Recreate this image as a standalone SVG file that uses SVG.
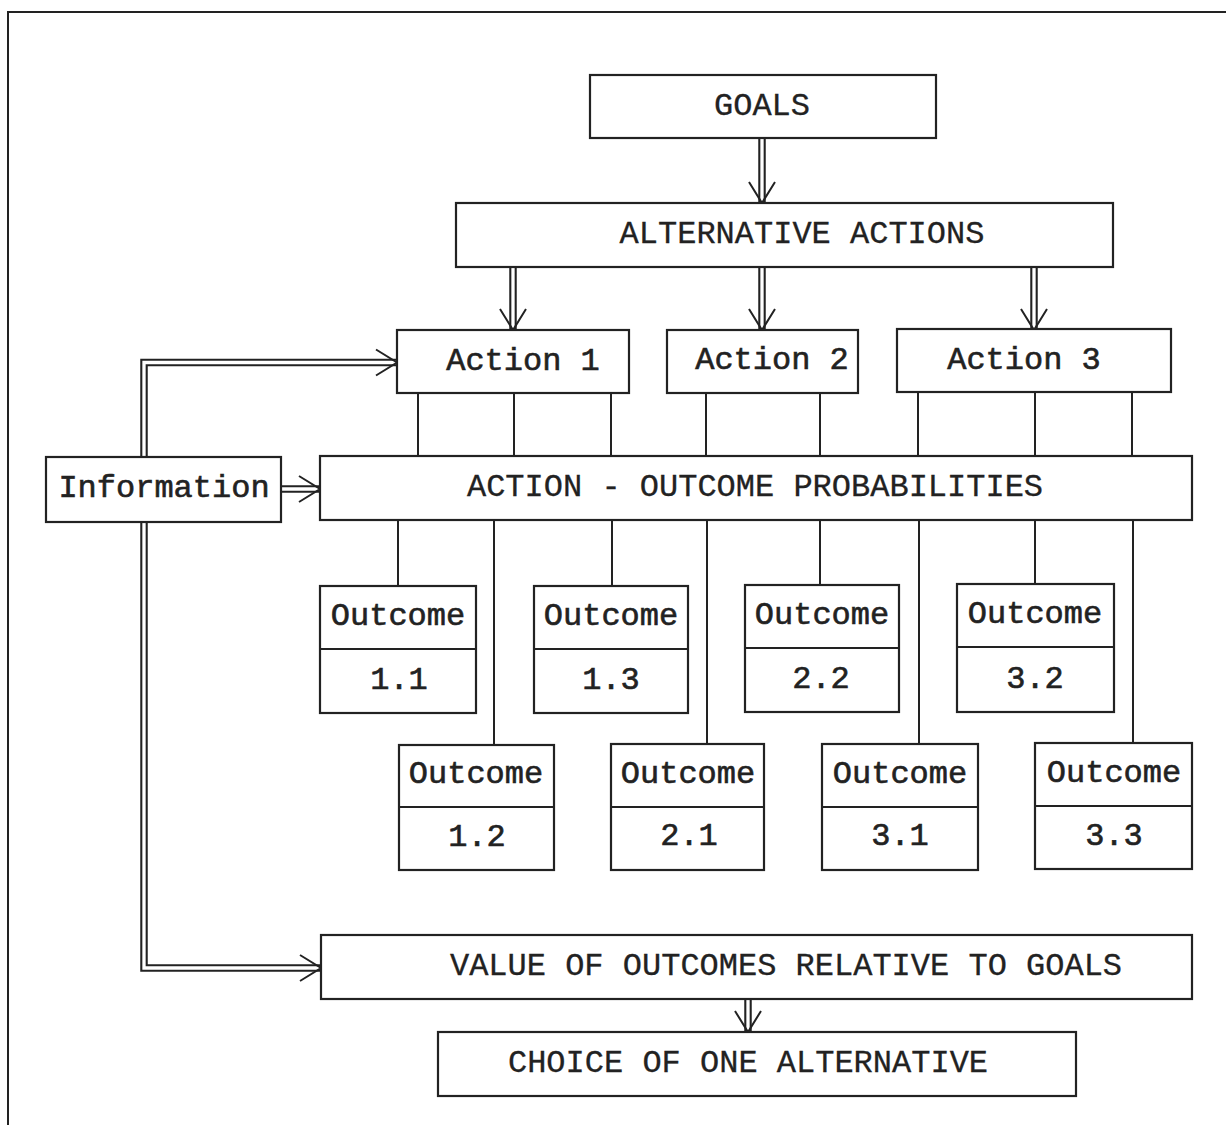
<svg xmlns="http://www.w3.org/2000/svg" width="1226" height="1125" viewBox="0 0 1226 1125">
  <style>
    .box { fill: #fff; stroke: #222; stroke-width: 2.2; }
    .div { stroke: #222; stroke-width: 2.2; fill: none; }
    .line { stroke: #222; stroke-width: 2; fill: none; }
    .dbl-o { stroke: #222; stroke-width: 7.5; fill: none; stroke-linejoin: miter; }
    .dbl-i { stroke: #fff; stroke-width: 3.3; fill: none; stroke-linejoin: miter; marker-end: url(#vhead); }
    .t { font-family: "Liberation Mono", "Courier New", monospace; font-size: 32px; fill: #222; text-anchor: middle; stroke: #222; stroke-width: 0.3; }
    .m { stroke-width: 0.6; }
    .frame { stroke: #222; stroke-width: 2; fill: none; }
  </style>
  <defs>
    <marker id="vhead" markerUnits="userSpaceOnUse" orient="auto" refX="0" refY="0" markerWidth="40" markerHeight="40" viewBox="-25 -20 30 40" overflow="visible">
      <path d="M-21,-13 L0,0 L-21,13" fill="none" stroke="#222" stroke-width="2"/>
    </marker>
  </defs>
  <rect x="0" y="0" width="1226" height="1125" fill="#fff"/>
  <path class="frame" d="M8,1125 V12 H1226"/>

  <g id="connectors">
    <path class="dbl-o" d="M762,138 V203"/>
    <path class="dbl-i" d="M762,138 V203"/>
    <path class="dbl-o" d="M513,267 V330"/>
    <path class="dbl-i" d="M513,267 V330"/>
    <path class="dbl-o" d="M762,267 V330"/>
    <path class="dbl-i" d="M762,267 V330"/>
    <path class="dbl-o" d="M1034,267 V330"/>
    <path class="dbl-i" d="M1034,267 V330"/>
    <path class="dbl-o" d="M281,489 H320"/>
    <path class="dbl-i" d="M281,489 H320"/>
    <path class="dbl-o" d="M144,457 V362.5 H397"/>
    <path class="dbl-i" d="M144,457 V362.5 H397"/>
    <path class="dbl-o" d="M144,522 V968 H321"/>
    <path class="dbl-i" d="M144,522 V968 H321"/>
    <path class="dbl-o" d="M748,999 V1032"/>
    <path class="dbl-i" d="M748,999 V1032"/>
    <path class="line" d="M418,393 V456 M514,393 V456 M611,393 V456 M706,393 V456 M820,393 V456 M918,393 V456 M1035,393 V456 M1132,393 V456"/>
    <path class="line" d="M398,520 V585 M612,520 V585 M820,520 V585 M1035,520 V585"/>
    <path class="line" d="M494,520 V744 M707,520 V744 M919,520 V744 M1133,520 V744"/>
  </g>

  <g id="goals"><rect class="box" x="590" y="75" width="346" height="63"/><text class="t" x="762" y="115">GOALS</text></g>
  <g id="alternative-actions"><rect class="box" x="456" y="203" width="657" height="64"/><text class="t" x="802" y="243">ALTERNATIVE ACTIONS</text></g>
  <g id="action-1"><rect class="box" x="397" y="330" width="232" height="63"/><text class="t m" x="523" y="370">Action 1</text></g>
  <g id="action-2"><rect class="box" x="667" y="330" width="191" height="63"/><text class="t m" x="772" y="369">Action 2</text></g>
  <g id="action-3"><rect class="box" x="897" y="329" width="274" height="63"/><text class="t m" x="1024" y="369">Action 3</text></g>
  <g id="information"><rect class="box" x="46" y="457" width="235" height="65"/><text class="t m" x="164" y="497">Information</text></g>
  <g id="action-outcome-probabilities"><rect class="box" x="320" y="456" width="872" height="64"/><text class="t" x="755" y="496">ACTION - OUTCOME PROBABILITIES</text></g>

  <g id="outcome-1-1"><rect class="box" x="320" y="586" width="156" height="127"/><path class="div" d="M320,649 H476"/><text class="t m" x="398" y="625">Outcome</text><text class="t m" x="399" y="689">1.1</text></g>
  <g id="outcome-1-3"><rect class="box" x="534" y="586" width="154" height="127"/><path class="div" d="M534,649 H688"/><text class="t m" x="611" y="625">Outcome</text><text class="t m" x="611" y="689">1.3</text></g>
  <g id="outcome-2-2"><rect class="box" x="745" y="585" width="154" height="127"/><path class="div" d="M745,648 H899"/><text class="t m" x="822" y="624">Outcome</text><text class="t m" x="821" y="688">2.2</text></g>
  <g id="outcome-3-2"><rect class="box" x="957" y="584" width="157" height="128"/><path class="div" d="M957,647 H1114"/><text class="t m" x="1035" y="623">Outcome</text><text class="t m" x="1035" y="688">3.2</text></g>

  <g id="outcome-1-2"><rect class="box" x="399" y="745" width="155" height="125"/><path class="div" d="M399,807 H554"/><text class="t m" x="476" y="783">Outcome</text><text class="t m" x="477" y="846">1.2</text></g>
  <g id="outcome-2-1"><rect class="box" x="611" y="744" width="153" height="126"/><path class="div" d="M611,807 H764"/><text class="t m" x="688" y="783">Outcome</text><text class="t m" x="689" y="845">2.1</text></g>
  <g id="outcome-3-1"><rect class="box" x="822" y="744" width="156" height="126"/><path class="div" d="M822,807 H978"/><text class="t m" x="900" y="783">Outcome</text><text class="t m" x="900" y="845">3.1</text></g>
  <g id="outcome-3-3"><rect class="box" x="1035" y="743" width="157" height="126"/><path class="div" d="M1035,806 H1192"/><text class="t m" x="1114" y="782">Outcome</text><text class="t m" x="1114" y="845">3.3</text></g>

  <g id="value-of-outcomes"><rect class="box" x="321" y="935" width="871" height="64"/><text class="t" x="786" y="975">VALUE OF OUTCOMES RELATIVE TO GOALS</text></g>
  <g id="choice"><rect class="box" x="438" y="1032" width="638" height="64"/><text class="t" x="748" y="1072">CHOICE OF ONE ALTERNATIVE</text></g>
</svg>
